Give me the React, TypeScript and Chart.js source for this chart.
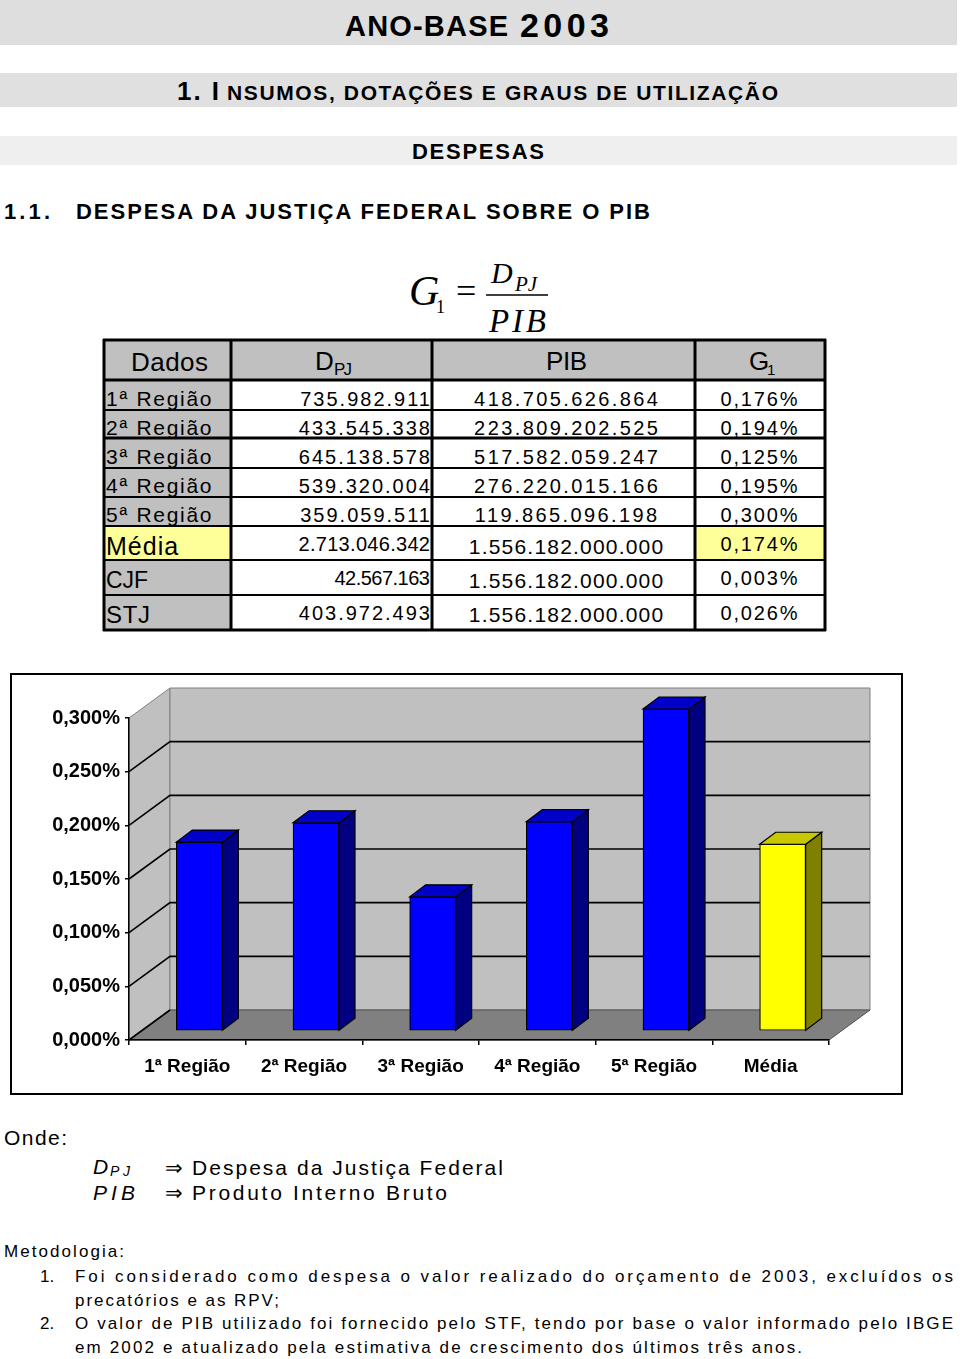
import React, { useEffect, useRef } from 'react';
import { Chart, registerables } from 'chart.js';

Chart.register(...registerables);

// ---------- chart data ----------
const categories = ['1ª Região', '2ª Região', '3ª Região', '4ª Região', '5ª Região', 'Média'];
const g1Percent = [0.176, 0.194, 0.125, 0.195, 0.3, 0.174];
const yMin = 0;
const yMax = 0.3;
const yStep = 0.05;
const frontColors = ['#0000ff', '#0000ff', '#0000ff', '#0000ff', '#0000ff', '#ffff00'];
const sideColors = ['#000080', '#000080', '#000080', '#000080', '#000080', '#808000'];
const topColors = ['#0000c8', '#0000c8', '#0000c8', '#0000c8', '#0000c8', '#c8c800'];

// ---------- table data ----------
const rowLabels = ['1ª Região', '2ª Região', '3ª Região', '4ª Região', '5ª Região', 'Média', 'CJF', 'STJ'];
const dpjValues = ['735.982.911', '433.545.338', '645.138.578', '539.320.004', '359.059.511', '2.713.046.342', '42.567.163', '403.972.493'];
const pibValues = ['418.705.626.864', '223.809.202.525', '517.582.059.247', '276.220.015.166', '119.865.096.198', '1.556.182.000.000', '1.556.182.000.000', '1.556.182.000.000'];
const g1Labels = ['0,176%', '0,194%', '0,125%', '0,195%', '0,300%', '0,174%', '0,003%', '0,026%'];

// ---------- layout / style (not data) ----------
const FONT = "'Liberation Sans', Arial, Helvetica, sans-serif";
const SERIF = "'Liberation Serif', 'Times New Roman', serif";
const rowLines = [380, 410, 438, 468, 497, 526, 560, 595, 630];
const labelBase = [405.5, 434.5, 463.5, 492.5, 521.5, 554.5, 587.5, 622.5];
const valueBase = [405.5, 434.5, 463.5, 492.5, 521.5, 550.5, 584.5, 619.5];
const pibBase = [405.5, 434.5, 463.5, 492.5, 521.5, 553.5, 587.5, 621.5];
const labelSize = [21, 21, 21, 21, 21, 25, 23, 24];
const labelLs = [1.7, 1.7, 1.7, 1.7, 1.7, 1, 0, 0.7];
const dpjLs = [2, 2, 2, 2, 2, 0.3, -0.5, 2];
const pibSize = [20, 20, 20, 20, 20, 21, 21, 21];
const pibLs = [2.4, 2.4, 2.4, 2.4, 2.4, 1.2, 1.2, 1.2];

const WALL_DX = 41;
const WALL_DY = -30;
const BAR_DX = 12;
const BAR_DY = -9;
const BAR_DEPTH_X = 16;
const BAR_DEPTH_Y = -12;

function poly(ctx: CanvasRenderingContext2D, pts: number[][], fill: string | null, stroke: string | null, lw = 1) {
  ctx.beginPath();
  ctx.moveTo(pts[0][0], pts[0][1]);
  for (let i = 1; i < pts.length; i++) ctx.lineTo(pts[i][0], pts[i][1]);
  ctx.closePath();
  if (fill) {
    ctx.fillStyle = fill;
    ctx.fill();
  }
  if (stroke) {
    ctx.strokeStyle = stroke;
    ctx.lineWidth = lw;
    ctx.stroke();
  }
}

const threeD = {
  id: 'threeD',
  beforeDraw(chart: any) {
    const { ctx, chartArea: a } = chart;
    const ys = chart.scales.y;
    ctx.save();
    poly(ctx, [[a.left, a.top], [a.left + WALL_DX, a.top + WALL_DY], [a.left + WALL_DX, a.bottom + WALL_DY], [a.left, a.bottom]], '#c0c0c0', '#808080');
    poly(ctx, [[a.left + WALL_DX, a.top + WALL_DY], [a.right + WALL_DX, a.top + WALL_DY], [a.right + WALL_DX, a.bottom + WALL_DY], [a.left + WALL_DX, a.bottom + WALL_DY]], '#c0c0c0', '#808080');
    poly(ctx, [[a.left, a.bottom], [a.right, a.bottom], [a.right + WALL_DX, a.bottom + WALL_DY], [a.left + WALL_DX, a.bottom + WALL_DY]], '#808080', '#505050');
    ctx.strokeStyle = '#000';
    ctx.lineWidth = 1.6;
    ys.ticks.forEach((t: any) => {
      if (t.value >= yMax - 1e-9) return;
      const py = ys.getPixelForValue(t.value);
      ctx.beginPath();
      ctx.moveTo(a.left, py);
      ctx.lineTo(a.left + WALL_DX, py + WALL_DY);
      if (t.value > yMin + 1e-9) ctx.lineTo(a.right + WALL_DX, py + WALL_DY);
      ctx.stroke();
    });
    ctx.restore();
  },
  beforeDatasetsDraw(chart: any) {
    chart.ctx.save();
    chart.ctx.translate(BAR_DX, BAR_DY);
  },
  afterDatasetsDraw(chart: any) {
    const ctx = chart.ctx;
    const meta = chart.getDatasetMeta(0);
    meta.data.forEach((bar: any, i: number) => {
      const l = bar.x - bar.width / 2;
      const r = bar.x + bar.width / 2;
      const top = bar.y;
      const base = bar.base;
      poly(ctx, [[r, top], [r + BAR_DEPTH_X, top + BAR_DEPTH_Y], [r + BAR_DEPTH_X, base + BAR_DEPTH_Y], [r, base]], sideColors[i], '#000', 1.2);
      poly(ctx, [[l, top], [r, top], [r + BAR_DEPTH_X, top + BAR_DEPTH_Y], [l + BAR_DEPTH_X, top + BAR_DEPTH_Y]], topColors[i], '#000', 1.2);
    });
    ctx.restore();
  },
};

function BarChart() {
  const ref = useRef<HTMLCanvasElement>(null);
  useEffect(() => {
    if (!ref.current) return;
    const chart = new Chart(ref.current, {
      type: 'bar',
      data: {
        labels: categories,
        datasets: [
          {
            data: g1Percent,
            backgroundColor: frontColors,
            borderColor: '#000',
            borderWidth: 1.2,
            borderSkipped: false,
            barThickness: 46,
            clip: false as any,
          },
        ],
      },
      options: {
        animation: false,
        responsive: false,
        maintainAspectRatio: false,
        layout: { padding: { left: 0, right: 72, top: 43, bottom: 0 } },
        plugins: { legend: { display: false }, tooltip: { enabled: false } },
        scales: {
          x: {
            offset: true,
            grid: { display: true, drawOnChartArea: false, drawTicks: true, tickLength: 5, color: '#000', lineWidth: 1.5, offset: true },
            border: { display: true, color: '#000', width: 1.5 },
            ticks: { color: '#000', padding: 10, maxRotation: 0, autoSkip: false, font: { family: FONT, size: 19, weight: 'bold' } },
            afterFit: (s: any) => {
              s.height = 53;
            },
          },
          y: {
            min: yMin,
            max: yMax,
            grid: { display: true, drawOnChartArea: false, drawTicks: true, tickLength: 4, color: '#000', lineWidth: 1.5 },
            border: { display: true, color: '#000', width: 1.5 },
            ticks: {
              stepSize: yStep,
              color: '#000',
              padding: 5,
              font: { family: FONT, size: 20, weight: 'bold' },
              callback: (v: any) => Number(v).toFixed(3).replace('.', ',') + '%',
            },
            afterFit: (s: any) => {
              s.width = 117;
            },
          },
        },
      },
      plugins: [threeD],
    });
    return () => chart.destroy();
  }, []);
  return <canvas ref={ref} width={889} height={418} style={{ position: 'absolute', left: 0, top: 0, width: 889, height: 418 }} />;
}

function T(p: { x: number; y: number; size: number; text: string; anchor?: string; weight?: string; italic?: boolean; family?: string; len?: number; ls?: number }) {
  return (
    <text
      x={p.x}
      y={p.y}
      fontSize={p.size}
      fontFamily={p.family || FONT}
      fontWeight={p.weight || 'normal'}
      fontStyle={p.italic ? 'italic' : 'normal'}
      textAnchor={(p.anchor || 'start') as any}
      textLength={p.len}
      lengthAdjust={p.len ? 'spacing' : undefined}
      letterSpacing={p.ls}
      fill="#000"
    >
      {p.text}
    </text>
  );
}

export default function App() {
  const colX = [104, 231, 432, 695, 825];
  return (
    <div style={{ position: 'absolute', left: 0, top: 0, width: 960, height: 1359, background: '#fff', overflow: 'hidden', fontFamily: FONT }}>
      <svg width={960} height={1359} style={{ position: 'absolute', left: 0, top: 0 }}>
        {/* header bars */}
        <rect x={0} y={0} width={957} height={45} fill="#dedede" />
        <rect x={0} y={73} width={957} height={34} fill="#e0e0e0" />
        <rect x={0} y={136} width={957} height={29} fill="#efefef" />
        <T x={345} y={36} size={29} weight="bold" text="ANO-BASE" len={163} />
        <T x={520} y={37} size={34} weight="bold" text="2003" len={89} />
        <T x={177} y={100} size={26} weight="bold" text="1. I" len={42} />
        <T x={227} y={100} size={21} weight="bold" text="NSUMOS, DOTAÇÕES E GRAUS DE UTILIZAÇÃO" len={551} />
        <T x={412} y={159} size={22} weight="bold" text="DESPESAS" len={132} />
        <T x={4} y={219} size={22} weight="bold" text="1.1." len={46} />
        <T x={76} y={219} size={22} weight="bold" text="DESPESA DA JUSTIÇA FEDERAL SOBRE O PIB" len={574} />

        {/* formula */}
        <T x={409} y={305} size={42} italic family={SERIF} text="G" />
        <T x={436} y={313} size={18} family={SERIF} text="1" />
        <T x={456} y={303} size={36} family={SERIF} text="=" />
        <line x1={486} y1={295} x2={548} y2={295} stroke="#000" strokeWidth={1.5} />
        <T x={491} y={283} size={30} italic family={SERIF} text="D" />
        <T x={515} y={291} size={21} italic family={SERIF} text="PJ" />
        <T x={489} y={332} size={33} italic family={SERIF} text="PIB" len={57} />

        {/* table backgrounds */}
        <rect x={104} y={340} width={721} height={40} fill="#c0c0c0" />
        <rect x={104} y={380} width={127} height={250} fill="#c0c0c0" />
        <rect x={231} y={380} width={594} height={250} fill="#ffffff" />
        <rect x={104} y={526} width={127} height={34} fill="#ffff99" />
        <rect x={695} y={526} width={130} height={34} fill="#ffff99" />
        {/* table lines */}
        <line x1={103} y1={340} x2={826} y2={340} stroke="#000" strokeWidth={3} />
        {rowLines.map((ry, i) => (
          <line key={'h' + i} x1={103} y1={ry} x2={826} y2={ry} stroke="#000" strokeWidth={i === 0 || i === 2 || i === rowLines.length - 1 ? 3 : 2.2} />
        ))}
        {colX.map((cx, i) => (
          <line key={'v' + i} x1={cx} y1={339} x2={cx} y2={631} stroke="#000" strokeWidth={3} />
        ))}
        {/* table header text */}
        <T x={131} y={371} size={26} text="Dados" len={77} />
        <T x={315} y={370} size={26} text="D" />
        <T x={334} y={375} size={17} text="PJ" len={18} />
        <T x={546} y={370} size={26} text="PIB" len={41} />
        <T x={749} y={370} size={26} text="G" />
        <T x={767} y={375} size={15} text="1" />
        {/* table rows */}
        {rowLabels.map((lab, i) => (
          <g key={'r' + i}>
            <T x={106} y={labelBase[i]} size={labelSize[i]} ls={labelLs[i]} text={lab} />
            <T x={430 + dpjLs[i]} y={valueBase[i]} size={20} ls={dpjLs[i]} anchor="end" text={dpjValues[i]} />
            <T x={566 + pibLs[i] / 2} y={pibBase[i]} size={pibSize[i]} ls={pibLs[i]} anchor="middle" text={pibValues[i]} />
            <T x={759 + 0.9} y={valueBase[i]} size={20} ls={1.8} anchor="middle" text={g1Labels[i]} />
          </g>
        ))}

        {/* footnotes */}
        <T x={4} y={1145} size={21} text="Onde:" len={63} />
        <T x={93} y={1174} size={21} italic text="D" />
        <T x={110} y={1176} size={14} italic text="PJ" len={20} />
        <T x={165} y={1175} size={21} text="⇒" />
        <T x={192} y={1175} size={21} text="Despesa da Justiça Federal" len={311} />
        <T x={93} y={1200} size={21} italic text="PIB" len={42} />
        <T x={165} y={1200} size={21} text="⇒" />
        <T x={192} y={1200} size={21} text="Produto Interno Bruto" len={255} />
        <T x={4} y={1257} size={17} text="Metodologia:" len={120} />
        <T x={40} y={1282} size={17} text="1." />
        <T x={75} y={1282} size={17} text="Foi considerado como despesa o valor realizado do orçamento de 2003, excluídos os" len={878} />
        <T x={75} y={1306} size={17} text="precatórios e as RPV;" len={204} />
        <T x={40} y={1329} size={17} text="2." />
        <T x={75} y={1329} size={17} text="O valor de PIB utilizado foi fornecido pelo STF, tendo por base o valor informado pelo IBGE" len={878} />
        <T x={75} y={1353} size={17} text="em 2002 e atualizado pela estimativa de crescimento dos últimos três anos." len={727} />
      </svg>
      <div style={{ position: 'absolute', left: 10, top: 673, width: 893, height: 422, border: '2px solid #000', boxSizing: 'border-box', background: '#fff' }}>
        <BarChart />
      </div>
    </div>
  );
}
